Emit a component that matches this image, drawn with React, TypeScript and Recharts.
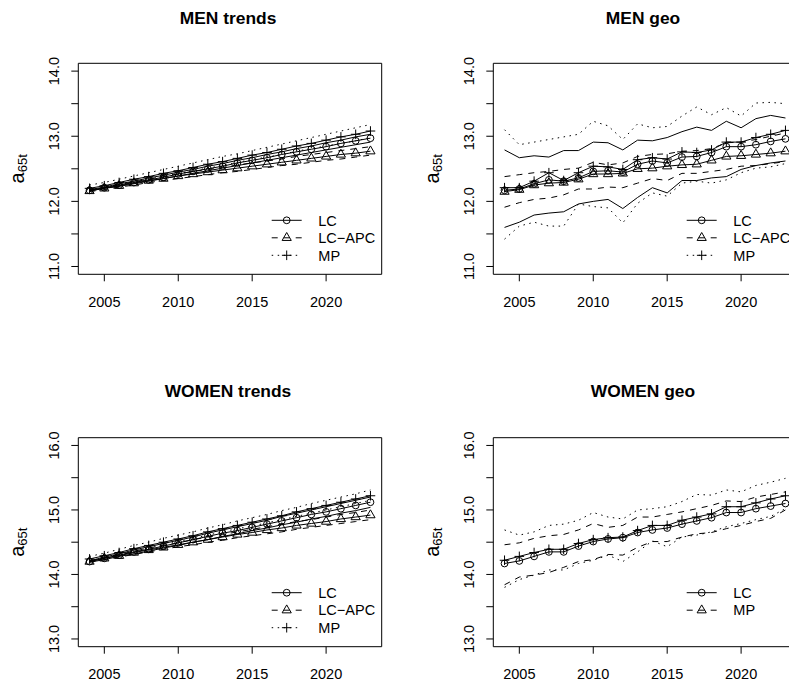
import React from 'react';
import { LineChart, Line, XAxis, YAxis, ReferenceArea } from 'recharts';

const years = [2004, 2005, 2006, 2007, 2008, 2009, 2010, 2011, 2012, 2013, 2014, 2015, 2016, 2017, 2018, 2019, 2020, 2021, 2022, 2023];

// ---------- MEN trends ----------
const menTrendLC = [12.17, 12.21, 12.25, 12.29, 12.33, 12.37, 12.42, 12.46, 12.50, 12.54, 12.59, 12.63, 12.67, 12.72, 12.76, 12.80, 12.84, 12.89, 12.93, 12.97];
const menTrendLCLo = [12.16, 12.20, 12.23, 12.27, 12.31, 12.35, 12.39, 12.43, 12.47, 12.51, 12.55, 12.59, 12.63, 12.67, 12.71, 12.75, 12.79, 12.83, 12.87, 12.91];
const menTrendLCHi = [12.18, 12.22, 12.27, 12.31, 12.36, 12.40, 12.45, 12.49, 12.54, 12.58, 12.63, 12.67, 12.72, 12.76, 12.81, 12.85, 12.90, 12.94, 12.99, 13.03];
const menTrendAPC = [12.16, 12.20, 12.24, 12.28, 12.32, 12.35, 12.39, 12.42, 12.45, 12.48, 12.51, 12.54, 12.57, 12.60, 12.63, 12.66, 12.69, 12.72, 12.74, 12.77];
const menTrendAPCLo = [12.15, 12.18, 12.22, 12.25, 12.29, 12.32, 12.35, 12.38, 12.41, 12.44, 12.46, 12.49, 12.52, 12.55, 12.57, 12.60, 12.63, 12.65, 12.68, 12.71];
const menTrendAPCHi = [12.17, 12.21, 12.26, 12.30, 12.34, 12.38, 12.42, 12.46, 12.49, 12.52, 12.56, 12.59, 12.62, 12.65, 12.69, 12.72, 12.75, 12.78, 12.81, 12.84];
const menTrendMP = [12.20, 12.24, 12.29, 12.34, 12.38, 12.43, 12.47, 12.52, 12.57, 12.61, 12.66, 12.71, 12.75, 12.80, 12.85, 12.89, 12.94, 12.99, 13.03, 13.08];
const menTrendMPLo = [12.17, 12.21, 12.26, 12.30, 12.34, 12.39, 12.43, 12.47, 12.51, 12.55, 12.60, 12.64, 12.68, 12.72, 12.77, 12.81, 12.85, 12.89, 12.93, 12.98];
const menTrendMPHi = [12.25, 12.29, 12.34, 12.39, 12.44, 12.49, 12.54, 12.59, 12.64, 12.69, 12.73, 12.78, 12.83, 12.88, 12.93, 12.98, 13.03, 13.08, 13.13, 13.18];

// ---------- MEN geo ----------
const menGeoLC = [12.17, 12.19, 12.27, 12.33, 12.31, 12.36, 12.46, 12.47, 12.45, 12.57, 12.62, 12.59, 12.68, 12.69, 12.75, 12.84, 12.84, 12.87, 12.92, 12.96];
const menGeoLCLo = [11.60, 11.68, 11.79, 11.82, 11.84, 11.96, 12.00, 12.03, 11.89, 12.06, 12.21, 12.13, 12.32, 12.32, 12.36, 12.38, 12.49, 12.55, 12.59, 12.62];
const menGeoLCHi = [12.79, 12.67, 12.70, 12.68, 12.78, 12.78, 12.91, 12.90, 12.79, 12.94, 12.93, 12.98, 13.07, 13.14, 13.09, 13.23, 13.13, 13.27, 13.32, 13.28];
const menGeoAPC = [12.15, 12.18, 12.25, 12.28, 12.29, 12.34, 12.42, 12.42, 12.43, 12.50, 12.51, 12.54, 12.56, 12.57, 12.63, 12.69, 12.70, 12.72, 12.74, 12.77];
const menGeoAPCLo = [11.91, 11.98, 12.03, 12.05, 12.10, 12.19, 12.19, 12.22, 12.21, 12.28, 12.35, 12.32, 12.43, 12.43, 12.46, 12.49, 12.54, 12.55, 12.58, 12.61];
const menGeoAPCHi = [12.38, 12.41, 12.44, 12.46, 12.49, 12.51, 12.60, 12.56, 12.59, 12.69, 12.72, 12.73, 12.77, 12.78, 12.81, 12.90, 12.91, 12.95, 13.00, 13.05];
const menGeoMP = [12.21, 12.21, 12.31, 12.44, 12.32, 12.44, 12.54, 12.53, 12.49, 12.64, 12.67, 12.65, 12.76, 12.75, 12.79, 12.91, 12.91, 12.98, 13.03, 13.09];
const menGeoMPLo = [11.42, 11.62, 11.68, 11.62, 11.62, 11.96, 11.92, 11.90, 11.67, 11.97, 12.13, 12.08, 12.28, 12.31, 12.28, 12.33, 12.44, 12.51, 12.53, 12.58];
const menGeoMPHi = [13.10, 12.87, 12.91, 12.95, 12.99, 13.03, 13.23, 13.16, 12.95, 13.19, 13.13, 13.15, 13.31, 13.45, 13.33, 13.44, 13.31, 13.51, 13.52, 13.50];

// ---------- WOMEN trends ----------
const womenTrendLC = [14.20, 14.25, 14.30, 14.35, 14.39, 14.44, 14.49, 14.54, 14.59, 14.64, 14.68, 14.73, 14.78, 14.83, 14.88, 14.93, 14.97, 15.02, 15.07, 15.12];
const womenTrendLCLo = [14.19, 14.23, 14.28, 14.32, 14.36, 14.41, 14.45, 14.50, 14.54, 14.59, 14.63, 14.68, 14.72, 14.77, 14.81, 14.86, 14.90, 14.95, 14.99, 15.04];
const womenTrendLCHi = [14.21, 14.27, 14.32, 14.38, 14.43, 14.48, 14.53, 14.58, 14.64, 14.69, 14.74, 14.79, 14.84, 14.90, 14.95, 15.00, 15.05, 15.10, 15.15, 15.20];
const womenTrendAPC = [14.20, 14.25, 14.29, 14.34, 14.38, 14.42, 14.46, 14.50, 14.54, 14.58, 14.62, 14.65, 14.69, 14.72, 14.76, 14.79, 14.82, 14.86, 14.89, 14.92];
const womenTrendAPCLo = [14.19, 14.23, 14.27, 14.31, 14.35, 14.39, 14.43, 14.46, 14.50, 14.53, 14.57, 14.60, 14.63, 14.66, 14.70, 14.73, 14.76, 14.79, 14.82, 14.85];
const womenTrendAPCHi = [14.21, 14.26, 14.31, 14.36, 14.41, 14.45, 14.49, 14.54, 14.58, 14.62, 14.66, 14.70, 14.74, 14.78, 14.82, 14.85, 14.89, 14.93, 14.96, 15.00];
const womenTrendMP = [14.24, 14.29, 14.34, 14.40, 14.45, 14.50, 14.55, 14.60, 14.66, 14.71, 14.76, 14.81, 14.86, 14.91, 14.97, 15.02, 15.07, 15.12, 15.17, 15.22];
const womenTrendMPLo = [14.21, 14.26, 14.31, 14.36, 14.41, 14.46, 14.51, 14.56, 14.61, 14.66, 14.71, 14.75, 14.80, 14.85, 14.90, 14.95, 15.00, 15.05, 15.10, 15.15];
const womenTrendMPHi = [14.28, 14.33, 14.39, 14.45, 14.50, 14.56, 14.61, 14.66, 14.72, 14.77, 14.83, 14.88, 14.93, 14.99, 15.04, 15.10, 15.15, 15.20, 15.25, 15.31];

// ---------- WOMEN geo ----------
const womenGeoLC = [14.17, 14.21, 14.28, 14.35, 14.35, 14.44, 14.51, 14.55, 14.57, 14.65, 14.69, 14.72, 14.78, 14.83, 14.88, 14.96, 14.96, 15.02, 15.06, 15.10];
const womenGeoLCLo = [13.80, 13.92, 13.99, 14.07, 14.07, 14.17, 14.22, 14.30, 14.20, 14.35, 14.52, 14.43, 14.58, 14.61, 14.66, 14.74, 14.79, 14.85, 14.90, 15.02];
const womenGeoLCHi = [14.69, 14.61, 14.66, 14.76, 14.78, 14.84, 14.96, 14.89, 14.86, 15.00, 15.02, 15.05, 15.13, 15.24, 15.23, 15.31, 15.28, 15.38, 15.43, 15.49];
const womenGeoMP = [14.22, 14.28, 14.34, 14.39, 14.39, 14.48, 14.54, 14.57, 14.58, 14.68, 14.76, 14.76, 14.84, 14.89, 14.94, 15.05, 15.05, 15.11, 15.17, 15.22];
const womenGeoMPLo = [13.84, 13.96, 13.99, 14.03, 14.11, 14.20, 14.23, 14.31, 14.30, 14.42, 14.51, 14.51, 14.58, 14.63, 14.65, 14.71, 14.76, 14.82, 14.87, 15.00];
const womenGeoMPHi = [14.46, 14.49, 14.56, 14.60, 14.62, 14.69, 14.79, 14.73, 14.76, 14.89, 14.89, 14.93, 14.97, 15.02, 15.07, 15.14, 15.13, 15.20, 15.24, 15.28];

const xTicks = [2005, 2010, 2015, 2020];
const menYTicks = [11, 11.5, 12, 12.5, 13, 13.5, 14];
const womenYTicks = [13, 13.5, 14, 14.5, 15, 15.5, 16];

const FONT = '"Liberation Sans", Arial, Helvetica, sans-serif';
const DASH = '6 6';
const DOT = '1.5 4.5';

type Shape = 'circle' | 'triangle' | 'plus' | null;
type Series = { name: string; values: number[]; dash?: string; marker: Shape };
type LegendItem = { label: string; dash?: string; marker: Shape };

function Marker({ shape, cx, cy }: { shape: Shape; cx: number; cy: number }) {
  if (shape === 'circle') return <circle cx={cx} cy={cy} r={3.4} fill="none" stroke="#000" strokeWidth={1} />;
  if (shape === 'triangle') {
    const r = 5.3;
    const pts = `${cx},${cy - r} ${cx + r * 0.866},${cy + r * 0.5} ${cx - r * 0.866},${cy + r * 0.5}`;
    return <polygon points={pts} fill="none" stroke="#000" strokeWidth={1} />;
  }
  if (shape === 'plus') {
    const h = 4.8;
    return <path d={`M${cx - h},${cy}H${cx + h}M${cx},${cy - h}V${cy + h}`} stroke="#000" strokeWidth={1} fill="none" />;
  }
  return null;
}

const XTick = (props: any) => {
  const { x, y, payload } = props;
  return (
    <text x={x} y={y + 25.4} textAnchor="middle" fontSize={14.5} fontFamily={FONT} fill="#000">
      {String(payload.value)}
    </text>
  );
};

const YTick = (props: any) => {
  const { x, y, payload } = props;
  const v = payload.value as number;
  if (Math.abs(v - Math.round(v)) > 1e-6) return <g />;
  const bx = x - 12.6;
  return (
    <text x={bx} y={y} transform={`rotate(-90 ${bx} ${y})`} textAnchor="middle" fontSize={14.5} fontFamily={FONT} fill="#000">
      {v.toFixed(1)}
    </text>
  );
};

type PanelDef = {
  left: number;
  top: number;
  height: number;
  title: string;
  titleY: number;
  boxTop: number;
  boxBottom: number;
  yDomain: [number, number];
  yTicks: number[];
  series: Series[];
  legend: LegendItem[];
};

const BOX_LEFT = 78.3;
const BOX_RIGHT = 381.7;
const W = 395;
const XDOM: [number, number] = [2003.24, 2023.76];

const panels: PanelDef[] = [
  {
    left: 0, top: 0, height: 340, title: 'MEN trends', titleY: 24.3, boxTop: 63.3, boxBottom: 274.3,
    yDomain: [10.88, 14.12], yTicks: menYTicks,
    series: [
      { name: 'lcLo', values: menTrendLCLo, marker: null },
      { name: 'lcHi', values: menTrendLCHi, marker: null },
      { name: 'apcLo', values: menTrendAPCLo, dash: DASH, marker: null },
      { name: 'apcHi', values: menTrendAPCHi, dash: DASH, marker: null },
      { name: 'mpLo', values: menTrendMPLo, dash: DOT, marker: null },
      { name: 'mpHi', values: menTrendMPHi, dash: DOT, marker: null },
      { name: 'LC', values: menTrendLC, marker: 'circle' },
      { name: 'LC-APC', values: menTrendAPC, marker: 'triangle' },
      { name: 'MP', values: menTrendMP, marker: 'plus' },
    ],
    legend: [
      { label: 'LC', marker: 'circle' },
      { label: 'LC\u2212APC', dash: DASH, marker: 'triangle' },
      { label: 'MP', dash: DOT, marker: 'plus' },
    ],
  },
  {
    left: 414.6, top: 0, height: 340, title: 'MEN geo', titleY: 24.3, boxTop: 63.3, boxBottom: 274.3,
    yDomain: [10.88, 14.12], yTicks: menYTicks,
    series: [
      { name: 'lcLo', values: menGeoLCLo, marker: null },
      { name: 'lcHi', values: menGeoLCHi, marker: null },
      { name: 'apcLo', values: menGeoAPCLo, dash: DASH, marker: null },
      { name: 'apcHi', values: menGeoAPCHi, dash: DASH, marker: null },
      { name: 'mpLo', values: menGeoMPLo, dash: DOT, marker: null },
      { name: 'mpHi', values: menGeoMPHi, dash: DOT, marker: null },
      { name: 'LC', values: menGeoLC, marker: 'circle' },
      { name: 'LC-APC', values: menGeoAPC, marker: 'triangle' },
      { name: 'MP', values: menGeoMP, marker: 'plus' },
    ],
    legend: [
      { label: 'LC', marker: 'circle' },
      { label: 'LC\u2212APC', dash: DASH, marker: 'triangle' },
      { label: 'MP', dash: DOT, marker: 'plus' },
    ],
  },
  {
    left: 0, top: 340, height: 350, title: 'WOMEN trends', titleY: 57.3, boxTop: 97.7, boxBottom: 306.7,
    yDomain: [12.88, 16.12], yTicks: womenYTicks,
    series: [
      { name: 'lcLo', values: womenTrendLCLo, marker: null },
      { name: 'lcHi', values: womenTrendLCHi, marker: null },
      { name: 'apcLo', values: womenTrendAPCLo, dash: DASH, marker: null },
      { name: 'apcHi', values: womenTrendAPCHi, dash: DASH, marker: null },
      { name: 'mpLo', values: womenTrendMPLo, dash: DOT, marker: null },
      { name: 'mpHi', values: womenTrendMPHi, dash: DOT, marker: null },
      { name: 'LC', values: womenTrendLC, marker: 'circle' },
      { name: 'LC-APC', values: womenTrendAPC, marker: 'triangle' },
      { name: 'MP', values: womenTrendMP, marker: 'plus' },
    ],
    legend: [
      { label: 'LC', marker: 'circle' },
      { label: 'LC\u2212APC', dash: DASH, marker: 'triangle' },
      { label: 'MP', dash: DOT, marker: 'plus' },
    ],
  },
  {
    left: 414.6, top: 340, height: 350, title: 'WOMEN geo', titleY: 57.3, boxTop: 97.7, boxBottom: 306.7,
    yDomain: [12.88, 16.12], yTicks: womenYTicks,
    series: [
      { name: 'lcLo', values: womenGeoLCLo, dash: DOT, marker: null },
      { name: 'lcHi', values: womenGeoLCHi, dash: DOT, marker: null },
      { name: 'mpLo', values: womenGeoMPLo, dash: DASH, marker: null },
      { name: 'mpHi', values: womenGeoMPHi, dash: DASH, marker: null },
      { name: 'LC', values: womenGeoLC, marker: 'circle' },
      { name: 'MP', values: womenGeoMP, marker: 'plus' },
    ],
    legend: [
      { label: 'LC', marker: 'circle' },
      { label: 'MP', dash: DASH, marker: 'triangle' },
    ],
  },
];

const LEGEND_ROWS = [54, 36.5, 19];

function Panel({ p }: { p: PanelDef }) {
  const rows = years.map((yr, i) => {
    const r: Record<string, number> = { year: yr };
    p.series.forEach((s) => { r[s.name] = s.values[i]; });
    return r;
  });
  const H = p.height;
  const xAxisH = 30;
  const margin = { top: p.boxTop, right: W - BOX_RIGHT, bottom: H - p.boxBottom - xAxisH, left: BOX_LEFT - 40 };
  const cx = (BOX_LEFT + BOX_RIGHT) / 2;
  const cy = (p.boxTop + p.boxBottom) / 2;
  const ylx = 24;
  return (
    <div style={{ position: 'absolute', left: p.left, top: p.top, width: W, height: H }}>
      <LineChart width={W} height={H} data={rows} margin={margin}>
        <XAxis dataKey="year" type="number" domain={XDOM} ticks={xTicks} allowDataOverflow interval={0}
          tickSize={7} tickMargin={0} axisLine={false} tickLine={{ stroke: '#000' }} tick={XTick} height={xAxisH} />
        <YAxis type="number" domain={p.yDomain} ticks={p.yTicks} allowDataOverflow interval={0} width={40}
          tickSize={7} tickMargin={0} axisLine={false} tickLine={{ stroke: '#000' }} tick={YTick} />
        <ReferenceArea x1={XDOM[0]} x2={XDOM[1]} y1={p.yDomain[0]} y2={p.yDomain[1]} fill="none" fillOpacity={0}
          stroke="#000" strokeWidth={1} strokeOpacity={1} ifOverflow="visible" />
        {p.series.map((s) => (
          <Line key={s.name} dataKey={s.name} type="linear" stroke="#000" strokeWidth={1}
            strokeDasharray={s.dash} isAnimationActive={false} activeDot={false}
            dot={s.marker ? (dp: any) => <Marker key={`${s.name}-${dp.index}`} shape={s.marker} cx={dp.cx} cy={dp.cy} /> : false} />
        ))}
      </LineChart>
      <svg width={W} height={H} style={{ position: 'absolute', left: 0, top: 0, pointerEvents: 'none', overflow: 'visible' }}>
        <text x={cx - 2} y={p.titleY} textAnchor="middle" fontSize={17.4} fontWeight="bold" fontFamily={FONT} fill="#000">{p.title}</text>
        <text x={ylx} y={cy} transform={`rotate(-90 ${ylx} ${cy})`} textAnchor="middle" fontFamily={FONT} fill="#000">
          <tspan fontSize={20}>a</tspan>
          <tspan fontSize={13} dy={3}>65t</tspan>
        </text>
        {p.legend.map((it, i) => {
          const y = p.boxBottom - LEGEND_ROWS[i];
          const x1 = BOX_RIGHT - 110;
          const x2 = BOX_RIGHT - 80;
          return (
            <g key={it.label}>
              <line x1={x1} x2={x2} y1={y} y2={y} stroke="#000" strokeWidth={1} strokeDasharray={it.dash} />
              <Marker shape={it.marker} cx={(x1 + x2) / 2} cy={y} />
              <text x={BOX_RIGHT - 63.4} y={y + 5.2} fontSize={14.5} fontFamily={FONT} fill="#000">{it.label}</text>
            </g>
          );
        })}
      </svg>
    </div>
  );
}

export default function App() {
  return (
    <div style={{ position: 'absolute', left: 0, top: 0, width: 789, height: 681, overflow: 'hidden', background: '#fff' }}>
      {panels.map((p) => <Panel key={p.title} p={p} />)}
    </div>
  );
}
